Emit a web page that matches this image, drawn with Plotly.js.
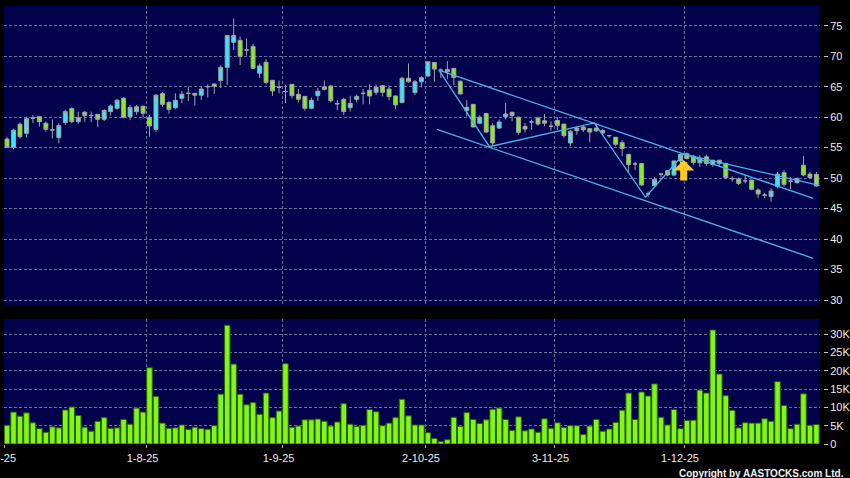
<!DOCTYPE html>
<html><head><meta charset="utf-8">
<script src="https://cdn.plot.ly/plotly-3.0.1.min.js"></script>
<style>html,body{margin:0;padding:0;background:#000;}#chart{width:850px;height:478px;}</style>
</head><body><div id="chart"></div>
<script>
// ---- data (day index 0 = 2-Jul-25) ----
const opens = [56.4,55.05,58.83,57.35,59.85,60.08,58.99,57.9,56.64,59.1,
61.4,59.26,60.8,60.25,60.46,59.64,60.9,61.45,63.09,60.08,
60.9,61.78,59.97,58.0,63.85,62.38,61.55,63.1,63.9,63.9,
63.6,65.0,65.05,66.0,68.17,72.27,72.6,71.0,71.6,67.2,
69.0,66.04,64.9,64.2,65.38,63.74,63.4,61.45,63.52,64.95,
65.1,62.2,62.9,61.56,62.92,63.9,64.4,64.07,65.16,64.6,
63.47,62.38,66.37,64.02,65.82,66.74,68.97,67.7,67.45,68.0,
65.9,61.1,62.1,59.0,60.6,58.59,58.2,60.05,60.8,60.0,
58.48,59.2,59.84,59.4,58.5,59.45,58.86,55.76,57.77,58.37,
58.1,58.2,57.8,56.96,56.7,55.8,53.9,52.3,52.4,47.4,
48.75,50.65,51.2,50.5,52.8,54.0,53.6,52.5,53.48,52.23,
52.93,52.4,49.9,49.84,49.56,49.67,48.04,47.2,46.96,48.6,
50.87,49.5,49.24,52.1,50.65,50.6];
const highs = [56.8,58.1,59.15,60.08,60.35,60.15,59.26,59.6,59.0,61.2,
61.6,60.9,61.0,60.9,60.5,61.3,62.1,62.98,63.3,62.0,
62.0,61.9,60.36,63.8,64.1,62.65,63.9,64.3,64.95,63.95,
65.1,65.4,65.5,68.5,73.4,76.2,73.2,72.9,72.0,68.8,
69.5,66.1,66.0,65.3,65.4,64.6,63.45,63.2,64.8,66.0,
65.3,62.8,63.2,63.5,63.7,64.6,65.4,65.3,65.3,65.2,
63.6,66.6,68.8,66.1,66.7,69.1,69.0,68.0,69.2,68.05,
65.95,62.8,62.15,60.3,60.65,59.0,59.6,62.3,60.85,60.05,
59.0,59.6,60.1,60.5,59.3,60.0,58.9,57.9,58.5,58.75,
58.15,59.0,58.1,57.1,56.75,56.2,53.95,52.66,52.5,47.8,
50.2,50.87,51.3,52.9,54.0,54.2,53.75,53.75,53.86,53.0,
53.0,52.5,50.3,50.1,50.5,49.7,48.3,47.6,48.3,51.0,
51.3,50.2,50.1,53.6,51.0,51.0];
const lows = [54.9,54.7,56.5,56.64,59.0,58.44,57.6,56.5,55.7,58.7,
59.0,58.9,59.26,59.15,58.44,59.37,60.25,61.2,59.8,59.5,
60.4,59.8,56.8,57.6,61.7,60.6,61.28,62.3,62.65,61.9,
62.8,63.2,63.8,64.8,65.3,71.0,68.55,70.1,67.9,66.4,
65.4,63.5,63.9,62.3,63.1,62.4,61.07,61.3,62.65,64.4,
62.4,61.1,60.35,60.9,62.4,62.1,62.1,63.6,63.4,62.8,
61.3,62.27,65.65,63.6,64.9,66.6,65.8,66.4,66.25,65.2,
63.75,60.1,58.3,58.85,57.4,55.2,58.1,59.6,59.3,57.1,
57.5,57.9,58.6,58.5,57.8,57.9,56.6,55.2,57.1,57.55,
55.9,57.55,57.1,56.6,55.2,53.6,51.0,51.3,48.75,46.85,
48.6,50.1,50.3,50.3,52.5,53.05,52.1,51.85,51.96,51.85,
51.9,49.8,49.4,48.86,49.13,48.0,46.7,46.7,46.1,48.3,
48.6,48.15,49.13,50.3,49.8,48.6];
const closes = [55.05,57.84,56.8,59.75,59.85,59.26,58.0,57.9,58.6,60.9,
59.26,59.92,60.25,60.25,59.64,61.07,61.83,62.76,59.97,61.6,
61.7,60.63,58.55,63.58,62.1,61.28,62.76,63.75,63.9,63.6,
64.6,65.0,65.43,68.17,73.4,73.4,69.97,71.0,68.0,68.4,
65.7,64.3,64.9,64.2,63.52,62.92,61.45,62.76,64.24,64.56,
62.7,62.2,60.9,62.27,63.4,63.9,63.47,64.9,64.07,63.36,
62.0,66.37,65.8,65.82,66.47,69.08,67.88,67.7,67.83,66.5,
63.8,61.6,58.4,60.0,57.55,55.76,59.2,60.5,60.27,57.5,
58.04,59.2,58.86,59.0,58.5,58.64,56.96,57.66,58.2,57.93,
57.55,57.77,57.4,56.96,55.55,54.84,52.2,52.3,48.86,47.4,
49.78,50.65,50.5,52.8,53.9,53.2,52.55,53.2,52.4,52.93,
52.4,50.1,49.9,49.13,49.56,48.15,47.4,47.2,47.88,50.65,
48.97,49.5,49.95,50.5,50.1,48.7];
const volumesK = [5.1,8.7,7.6,8.5,5.8,4.2,3.2,4.7,4.4,9.3,
10.1,7.8,4.6,3.5,6.2,7.2,4.3,4.4,6.7,5.4,
9.8,8.7,20.8,13.0,5.7,4.3,4.4,5.2,4.0,4.6,
4.2,4.0,5.0,13.6,32.4,21.8,13.6,10.7,11.3,8.1,
13.9,7.2,9.0,21.9,4.6,4.9,6.6,6.6,6.8,6.2,
4.9,6.0,11.0,5.4,4.8,5.1,9.4,8.8,5.0,5.7,
7.2,12.2,7.7,5.2,5.2,3.1,1.5,0.7,1.2,7.3,
4.8,8.6,6.7,5.6,6.6,9.5,9.8,6.7,3.7,7.4,
3.6,4.1,3.2,6.9,4.3,5.8,4.5,5.0,5.0,2.6,
4.9,6.7,3.5,4.1,5.9,9.2,13.9,6.7,14.2,13.1,
16.4,7.3,5.2,9.4,4.2,6.4,6.5,14.7,13.9,31.1,
19.1,13.2,9.2,4.4,5.8,5.7,5.7,6.9,6.2,17.0,
10.5,4.2,5.4,13.7,5.1,5.3];

// month boundaries (day index of first trading day of month) and labels
const monthStartIdx = [0, 22, 43, 65, 85, 105];
const monthLabels = ['1-7-25','1-8-25','1-9-25','2-10-25','3-11-25','1-12-25'];
const priceTicks = [30,35,40,45,50,55,60,65,70,75];
const volTicks = [0,5,10,15,20,25,30];
const volTickText = ['0','5K','10K','15K','20K','25K','30K'];

// drawn trend lines (day index, price)
const zigzagX = [66.7, 74.5, 90.7, 98.6, 104.5];
const zigzagY = [67.7, 55.15, 59.05, 46.85, 53.95];
const upperChanX = [66.7, 124.5];
const upperChanY = [67.7, 46.68];
const lowerChanX = [66.4, 124.5];
const lowerChanY = [58.0, 36.84];
const sideLineX = [104.5, 125.8];
const sideLineY = [53.95, 48.7];
const signalX = 104.5, signalY = 52.97;

// ---- build ----
const days = opens.map((_, i) => i);
const gridPos = monthStartIdx.map(v => v - 0.45);

function candles(filterFn, fill) {
  const idx = days.filter(filterFn);
  const style = {line: {color: '#a4a4a4', width: 1}, fillcolor: fill};
  return {
    type: 'candlestick', x: idx,
    open: idx.map(i => opens[i]), high: idx.map(i => highs[i]),
    low: idx.map(i => lows[i]), close: idx.map(i => closes[i]),
    increasing: style, decreasing: style, whiskerwidth: 0,
    xaxis: 'x', yaxis: 'y', hoverinfo: 'skip', showlegend: false
  };
}
function line(xs, ys) {
  return {type: 'scatter', mode: 'lines', x: xs, y: ys, xaxis: 'x', yaxis: 'y',
    line: {color: '#4fb2ea', width: 1.3}, hoverinfo: 'skip', showlegend: false};
}

const traces = [
  line(lowerChanX, lowerChanY),
  line(upperChanX, upperChanY),
  line(sideLineX, sideLineY),
  line(zigzagX, zigzagY),
  candles(i => closes[i] > opens[i], '#36e6f6'),
  candles(i => closes[i] < opens[i], '#84ec20'),
  candles(i => closes[i] === opens[i], '#a4a4a4'),
  {type: 'bar', x: days, y: volumesK, xaxis: 'x2', yaxis: 'y2', width: 0.86,
   marker: {color: '#80f814', line: {color: '#2e5a08', width: 1}},
   hoverinfo: 'skip', showlegend: false}
];

const gridStyle = {showgrid: true, gridcolor: '#6a6a9c', griddash: '3px,2px', gridwidth: 1, zeroline: false, showline: false};
const tickFont = {family: 'Arial, Liberation Sans, sans-serif', size: 11, color: '#ececec'};
const W = 850, H = 478, mL = 4, mR = 27, mT = 6, mB = 34;
const plotW = W - mL - mR, plotH = H - mT - mB;
const xDomEnd = 815.7 / plotW;
const xRange = [-0.47, -0.47 + 815.7 / 6.475];

const layout = {
  width: W, height: H,
  margin: {l: mL, r: mR, t: mT, b: mB, pad: 0},
  paper_bgcolor: '#000000', plot_bgcolor: '#02024c',
  showlegend: false, boxgap: 0.13, bargap: 0.14,
  xaxis: Object.assign({domain: [0, xDomEnd], anchor: 'y', range: xRange, tickvals: gridPos,
    showticklabels: false, ticks: '', rangeslider: {visible: false}}, gridStyle),
  xaxis2: Object.assign({domain: [0, xDomEnd], anchor: 'y2', range: xRange, tickvals: gridPos,
    ticktext: monthLabels, showticklabels: true, ticks: 'outside', ticklen: 3, tickcolor: '#b0b0b0',
    ticklabelshift: -4, ticklabelstandoff: 1, ticklabeloverflow: 'allow', tickfont: tickFont}, gridStyle),
  yaxis: Object.assign({domain: [(444 - 305) / plotH, 1], range: [29.18, 78.23], side: 'right',
    anchor: 'free', position: 1, tickvals: priceTicks, ticks: 'outside', ticklen: 4, tickcolor: '#c8c8c8',
    tickfont: tickFont}, gridStyle),
  yaxis2: Object.assign({domain: [0, (444 - 319) / plotH], range: [0, 34.1], side: 'right',
    anchor: 'free', position: 1, tickvals: volTicks, ticktext: volTickText, ticks: 'outside', ticklen: 4,
    tickcolor: '#c8c8c8', tickfont: tickFont}, gridStyle),
  annotations: [
    {xref: 'x', yref: 'y', x: signalX, y: signalY, ax: 0, ay: 22, text: '', showarrow: true,
     arrowhead: 1, arrowsize: 0.5, arrowwidth: 7, arrowcolor: '#ffcc1a'},
    {xref: 'paper', yref: 'paper', x: (846 - mL) / plotW, y: (444 - 473) / plotH, xanchor: 'right', yanchor: 'middle',
     text: '<b>Copyright by AASTOCKS.com Ltd.</b>', showarrow: false,
     font: {family: 'Arial, Liberation Sans, sans-serif', size: 10, color: '#f0f0f0'}}
  ]
};

Plotly.newPlot('chart', traces, layout, {staticPlot: true, displayModeBar: false});
</script></body></html>
